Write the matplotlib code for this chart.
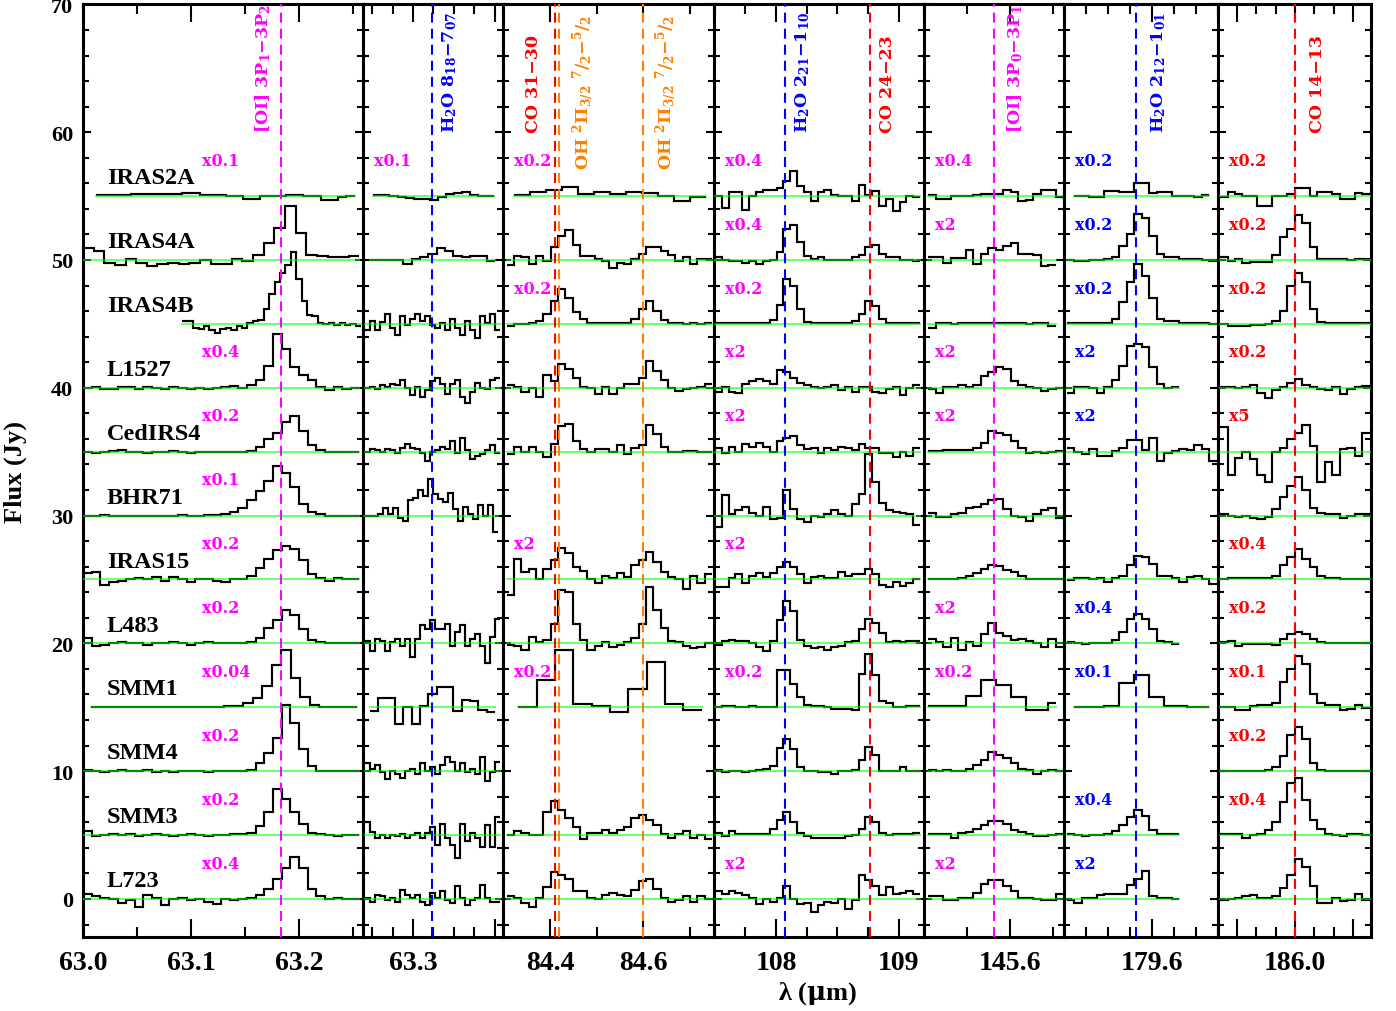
import numpy as np
import matplotlib
matplotlib.use("Agg")
import matplotlib.pyplot as plt
from matplotlib.ticker import FixedLocator, MultipleLocator

plt.rcParams["font.family"] = ["Liberation Serif", "DejaVu Serif"]
plt.rcParams["font.weight"] = "bold"
plt.rcParams["mathtext.fontset"] = "dejavuserif"
plt.rcParams["mathtext.default"] = "bf"

sources = ["IRAS2A", "IRAS4A", "IRAS4B", "L1527", "CedIRS4", "BHR71",
           "IRAS15", "L483", "SMM1", "SMM4", "SMM3", "L723"]
offsets = [55, 50, 45, 40, 35, 30, 25, 20, 15, 10, 5, 0]

# wavelength window of each panel (micron)
windows = [(63.0, 63.2593), (63.2390, 63.4098), (84.2994, 84.7512),
           (107.4959, 109.2033), (145.2, 145.8512), (179.2, 179.9),
           (185.601, 186.394)]

# spectra: source -> (lambda_lo, lambda_hi, flux above offset, already scaled)
G1 = (63.0, 63.256)
oi63 = {
    "IRAS2A": (63.012, 63.252, [0.1, 0.1, 0.1, 0.1, 0.15, 0.2, 0.2, 0.2, 0.2, 0.2, 0.25, 0.25, 0.1, 0.1, 0.1,
                                0.0, 0.0, -0.2, -0.2, 0.0, 0.0, 0.0, 0.1, 0.1, 0.0, 0.0, -0.3, -0.3, -0.1, 0.0]),
    "IRAS4A": (63.0, 63.256, [0.9, 0.7, -0.2, -0.4, 0.1, -0.2, -0.5, -0.3, -0.2, -0.3, -0.2, 0.0, -0.3,
                              -0.3, 0.1, -0.1, 0.4, 1.3, 2.5, 4.2, 2.1, 0.4, 0.3, 0.25, 0.2, 0.3]),
    "IRAS4B": (63.092, 63.2577, [0.2, 0.2, -0.3, -0.4, -0.2, -0.5, -0.7, -0.4, -0.3, -0.5, -0.2, -0.3, 0.1,
                                 0.2, 0.3, 1.2, 2.3, 3.3, 4.0, 4.6, 5.6, 3.5, 1.8, 0.7, 0.6, 0.1, 0.0, 0.1,
                                 -0.1, 0.1, -0.1, 0.0, -0.2]),
    "L1527": (*G1, [0.0, 0.1, -0.1, -0.1, 0.1, 0.1, -0.1, 0.1, 0.0, -0.1, 0.1, 0.0, -0.1, 0.0, -0.1, 0.0,
                    0.1, 0.15, 0.0, 0.2, 0.6, 1.7, 4.2, 3.0, 1.6, 1.0, 0.6, 0.1, -0.2, 0.1, -0.1, 0.0]),
    "CedIRS4": (*G1, [0.0, -0.1, 0.0, 0.05, 0.1, 0.0, 0.0, -0.1, 0.0, -0.05, 0.05, 0.0, -0.1, 0.0, -0.05, 0.0,
                      0.0, 0.0, 0.0, 0.05, 0.4, 1.0, 1.5, 2.3, 2.8, 1.6, 0.5, 0.1, 0.0, 0.0, 0.0, 0.0]),
    "BHR71": (*G1, [0.0, 0.0, 0.05, 0.0, 0.0, -0.05, 0.0, 0.0, 0.0, 0.0, 0.0, 0.05, 0.0, 0.0, 0.05, 0.05,
                    0.1, 0.3, 0.6, 1.2, 1.9, 2.7, 3.9, 3.3, 2.2, 0.9, 0.3, 0.1, 0.0, 0.0, 0.0, 0.0]),
    "IRAS15": (*G1, [0.5, 0.6, -0.4, -0.2, -0.1, 0.0, 0.1, 0.0, 0.2, -0.1, 0.2, 0.0, -0.2, 0.0, 0.0, -0.1,
                     -0.2, 0.0, 0.0, 0.3, 0.9, 1.6, 2.3, 2.6, 2.4, 1.5, 0.4, 0.1, -0.1, 0.1, 0.0, 0.0]),
    "L483": (*G1, [0.4, -0.2, -0.1, 0.0, 0.1, 0.0, 0.0, -0.1, 0.05, 0.0, 0.1, 0.0, -0.1, 0.0, 0.1, 0.0,
                   0.0, 0.0, 0.0, 0.1, 0.4, 1.2, 1.8, 2.6, 2.2, 1.1, 0.3, 0.1, 0.0, 0.0, 0.0, 0.0]),
    "SMM1": (63.0077, 63.254, [0.0, 0.0, 0.05, 0.0, 0.0, 0.0, 0.05, 0.0, 0.0, 0.0, 0.05, 0.05, 0.0, 0.05,
                               0.1, 0.1, 0.3, 0.7, 1.7, 3.3, 4.5, 2.3, 0.8, 0.2, 0.05, 0.0, 0.0, 0.05]),
    "SMM4": (*G1, [0.1, 0.0, -0.1, 0.0, 0.1, 0.0, 0.05, 0.1, -0.05, 0.0, -0.1, 0.0, 0.05, 0.0, -0.1, 0.0,
                   0.0, 0.0, 0.0, 0.1, 0.6, 1.4, 2.6, 5.2, 3.8, 1.7, 0.4, 0.05, 0.0, 0.0, 0.0, 0.0]),
    "SMM3": (*G1, [0.3, -0.1, 0.0, 0.05, 0.0, 0.05, -0.05, 0.0, 0.05, 0.0, -0.1, 0.0, 0.05, 0.0, -0.1, 0.0,
                   0.0, 0.05, 0.1, 0.2, 0.7, 1.8, 3.6, 2.8, 1.8, 0.9, 0.2, 0.05, 0.0, -0.05, 0.0, 0.0]),
    "L723": (*G1, [0.4, 0.2, 0.1, 0.0, -0.3, -0.1, -0.6, 0.3, 0.1, -0.5, 0.0, 0.1, -0.1, 0.0, -0.2, -0.4,
                   0.0, -0.1, 0.0, 0.1, 0.3, 0.8, 1.6, 2.4, 3.3, 2.4, 0.8, 0.2, 0.0, 0.1, 0.0, 0.0]),
}

G2 = (63.2415, 63.4061)
h2o63 = {
    "IRAS2A": (63.2516, 63.3992, [0.05, 0.05, 0.0, -0.1, -0.15, -0.2, -0.25, -0.3, -0.05, 0.2, 0.25, 0.35, 0.1, 0.0, 0.0]),
    "IRAS4A": (63.2476, 63.4, [0.0, 0.0, 0.0, 0.0, -0.3, 0.1, 0.2, 0.5, 0.9, 0.7, 0.3, 0.2, 0.3, 0.3, -0.1]),
    "IRAS4B": (*G2, [-0.45, 0.2, -0.45, 0.15, 0.75, -0.3, -0.85, 0.6, -0.05, 0.35, 0.75, 0.2, 0.6, -0.05,
                     -0.3, 0.1, -0.45, 0.35, -0.3, -0.85, 0.2, -0.45, -1.1, 0.6, 0.1, 0.75, -0.45]),
    "L1527": (*G2, [0.0, 0.1, -0.1, 0.2, 0.1, 0.3, 0.2, 0.6, 0.0, -0.6, 0.1, -0.7, -0.2, 0.5, 0.8, 0.3,
                    -0.5, 0.3, 0.6, -0.7, -1.2, -0.3, 0.4, 0.0, -0.1, 0.6, 0.8]),
    "CedIRS4": (*G2, [0.0, 0.2, 0.1, 0.0, 0.2, 0.1, -0.1, 0.3, 0.6, 0.3, 0.2, -0.1, -0.7, 0.0, 0.1, 0.4,
                      0.2, 0.85, -0.1, 1.1, 0.1, -0.6, -0.3, -0.2, 0.1, 0.5, -0.1]),
    "BHR71": (63.2394, 63.404, [0.0, -0.05, 0.0, 0.1, 0.6, 0.1, 0.6, -0.2, -0.4, 1.2, 1.4, 2.0, 1.5, 2.9,
                                1.7, 1.3, 1.05, 1.8, 0.5, -0.4, 0.65, 0.1, -0.25, 0.8, 0.0, 0.8, -1.3]),
    "L483": (*G2, [0.2, -0.6, 0.35, 0.2, -0.6, 0.1, 0.35, -0.2, 0.35, -1.1, 0.35, 1.4, 1.1, 1.8, 1.1, 1.1,
                   1.5, -0.2, 0.9, 1.45, -0.2, 0.35, 0.7, -0.2, -1.5, 0.5, 1.9]),
    "SMM1": (63.2476, 63.4, [-0.3, 0.7, 0.7, -1.3, 0.0, -1.3, 0.1, 1.0, 1.6, 1.6, -0.3, 0.6, 0.5, -0.2, -0.35]),
    "SMM4": (*G2, [0.6, 0.2, 0.45, -0.1, -0.6, 0.05, -0.2, -0.5, 0.05, 0.2, -0.2, 0.6, 0.05, 0.3, -0.2,
                   0.5, 1.1, 0.7, 0.05, 0.65, -0.1, 0.2, -0.2, 1.1, -0.75, -0.1, 0.7]),
    "SMM3": (*G2, [1.0, 0.25, -0.25, 0.0, -0.25, 0.0, -0.1, 0.05, -0.25, 0.0, 0.15, -0.25, 0.15, 0.65,
                   -0.8, 0.9, -0.25, -0.8, -1.8, 0.9, -0.5, 0.15, -0.25, -0.9, 0.8, -0.9, 1.45]),
    "L723": (*G2, [0.1, -0.2, 0.3, 0.2, -0.1, 0.05, -0.2, 0.7, 0.3, 0.05, 0.3, -0.2, -0.5, 0.45, 0.05,
                   0.6, -0.1, -0.35, 1.0, 0.05, -0.5, -0.1, 0.05, 1.1, 0.05, -0.2, -0.2]),
}

G3 = (84.3072, 84.7469)
co_oh84 = {
    "IRAS2A": (84.3235, 84.7347, [0.1, 0.35, 0.5, 0.7, 0.15, 0.35, 0.2, 0.35, 0.25, 0.0, -0.35, -0.1]),
    "IRAS4A": (*G3, [-0.4, 0.3, 0.2, -0.3, 0.3, -0.1, 1.0, 1.9, 2.35, 1.2, 0.3, 0.3, 0.1, -0.1, -0.6, -0.2,
                     -0.3, 0.1, 0.5, 1.0, 1.0, 0.7, 0.4, -0.1, 0.2, -0.3, 0.1, 0.1]),
    "IRAS4B": (*G3, [-0.2, 0.0, 0.0, 0.05, 0.2, 0.8, 1.8, 2.7, 2.0, 0.9, 0.35, 0.05, 0.05, 0.05, 0.05, 0.1,
                     0.1, 0.4, 1.2, 1.8, 1.0, 0.3, 0.05, 0.05, 0.0, 0.05, 0.0, 0.05]),
    "L1527": (*G3, [0.2, 0.1, -0.3, 0.0, -0.7, 1.0, 0.5, 1.9, 1.5, 0.8, 0.1, 0.0, -0.5, 0.1, -0.5, 0.0,
                    0.3, 0.3, 0.8, 2.1, 1.3, 0.6, 0.0, -0.25, -0.1, 0.0, 0.1, 0.3]),
    "CedIRS4": (*G3, [-0.2, 0.35, 0.0, 0.35, 0.0, -0.4, 0.6, 2.0, 2.2, 0.8, 0.2, 0.0, 0.2, 0.2, 0.0, 0.5,
                      -0.2, 0.3, 0.5, 2.05, 1.4, 0.4, 0.0, -0.05, 0.05, 0.05, 0.0, 0.0]),
    "IRAS15": (*G3, [-1.25, 1.6, 0.6, 0.85, 0.0, 0.8, 1.5, 2.5, 2.1, 1.0, 0.7, 0.0, -0.3, 0.3, 0.1, 0.5,
                     0.2, 1.1, 1.5, 2.15, 1.4, 0.6, 0.2, 0.0, -0.75, 0.3, -0.3, 0.4]),
    "L483": (*G3, [-0.1, -0.2, -0.5, 0.5, 0.1, 0.3, 1.5, 4.2, 4.0, 1.5, 0.3, -0.5, -0.2, 0.1, -0.3, -0.1,
                   0.1, 0.4, 1.5, 4.4, 2.6, 1.2, 0.2, 0.1, -0.2, -0.4, -0.3, 0.0]),
    "SMM1": (84.3322, 84.7248, [0.0, 2.15, 4.45, 0.25, 0.1, -0.4, 1.45, 3.55, 0.25, -0.25]),
    "SMM3": (*G3, [0.0, 0.3, 0.2, 0.0, 0.0, 1.8, 2.7, 2.0, 1.3, 0.6, -0.3, 0.2, 0.2, 0.4, 0.2, 0.4, 0.6,
                   1.3, 1.6, 1.2, 0.8, 0.1, -0.2, 0.1, 0.3, -0.2, 0.0, -0.3]),
    "L723": (*G3, [0.2, 0.1, -0.3, -0.6, 0.1, 0.9, 2.1, 1.9, 1.6, 0.6, 0.6, 0.1, 0.0, 0.3, 0.5, 0.3, 0.2,
                   0.7, 1.4, 1.6, 0.8, 0.1, -0.2, -0.1, 0.2, -0.2, 0.2, 0.0]),
}

G4 = (107.504, 109.171)
h2o_co108 = {
    "IRAS2A": (*G4, [0.0, -0.9, 0.3, 0.3, -1.1, 0.0, 0.35, 0.45, 0.45, 0.6, 1.2, 2.0, 0.8, 0.35, -0.4, 0.3,
                     0.5, 0.1, 0.0, 0.0, -0.4, 0.9, 0.1, 0.4, -0.8, -0.2, -1.2, -0.5, 0.0, -0.1]),
    "IRAS4A": (*G4, [0.2, 0.0, -0.1, -0.1, -0.2, -0.1, -0.3, -0.1, 0.0, 0.6, 2.4, 2.75, 1.4, 0.3, 0.1, 0.2,
                     0.0, 0.0, 0.0, 0.0, 0.2, 0.4, 1.0, 1.2, 0.5, 0.2, 0.2, 0.0, 0.0, -0.1]),
    "IRAS4B": (*G4, [0.05, 0.05, 0.05, 0.05, 0.05, 0.05, 0.05, 0.1, 0.3, 1.5, 3.5, 3.0, 1.2, 0.15, 0.05,
                     0.05, 0.05, 0.05, 0.05, 0.1, 0.2, 0.8, 1.8, 1.4, 0.4, 0.1, 0.05, 0.05, 0.05, 0.05]),
    "L1527": (*G4, [-0.3, 0.1, -0.3, -0.4, 0.3, 0.5, 0.7, 0.5, 0.3, 1.4, 1.2, 0.8, 0.4, 0.2, 0.1, 0.0, 0.1,
                    0.2, -0.2, 0.1, -0.3, 0.1, 0.1, -0.3, -0.4, -0.1, 0.1, -0.6, 0.0, 0.2]),
    "CedIRS4": (*G4, [0.3, -0.1, 0.4, 0.0, 0.6, 0.4, 0.7, 0.4, 0.0, 0.8, 1.1, 1.25, 0.5, 0.2, 0.3, -0.1,
                      0.3, 0.1, 0.4, 0.3, 0.1, 0.6, 0.3, 0.3, -0.1, -0.1, -0.4, 0.0, -0.3, 0.3]),
    "BHR71": (*G4, [-0.9, 1.6, 0.1, 0.4, 0.7, 0.2, 0.0, 0.7, -0.3, -0.2, 2.0, 0.5, -0.3, -0.5, 0.0, -0.1,
                    0.1, 0.4, 0.1, 0.0, 0.9, 1.7, 4.8, 2.6, 1.0, 0.4, 0.3, 0.2, 0.1, -0.7]),
    "IRAS15": (*G4, [-0.6, -0.6, 0.1, 0.4, -0.3, 0.3, 0.5, 0.2, 0.5, 1.0, 1.35, 1.0, 0.4, -0.3, 0.2, 0.3,
                     0.1, 0.1, 0.6, 0.3, 0.4, 0.4, 0.85, 0.4, -0.4, -0.6, -0.2, -0.5, -0.3, 0.0]),
    "L483": (*G4, [-0.1, 0.2, 0.3, 0.15, 0.2, 0.0, -0.3, -0.6, 0.2, 1.8, 3.35, 2.5, 0.3, -0.2, -0.4, -0.3,
                   -0.5, -0.3, -0.2, 0.1, 0.2, 1.1, 1.9, 1.6, 0.8, 0.1, 0.2, 0.1, 0.2, 0.2]),
    "SMM1": (*G4, [0.0, 0.1, 0.1, 0.0, 0.0, 0.1, 0.05, 0.05, 0.05, 2.95, 2.95, 1.85, 0.8, 0.2, 0.1, 0.1,
                   0.0, -0.15, -0.1, -0.1, -0.2, 2.6, 4.2, 2.5, 0.5, 0.3, 0.0, 0.0, 0.1, 0.1]),
    "SMM4": (*G4, [0.1, -0.05, 0.05, 0.0, -0.1, 0.05, 0.1, 0.2, 0.4, 1.8, 2.5, 1.7, 0.3, 0.05, 0.0, -0.05,
                   -0.1, -0.2, 0.0, 0.05, 0.1, 0.9, 1.9, 1.3, 0.05, 0.05, 0.05, 0.3, 0.0, 0.05]),
    "SMM3": (*G4, [0.2, -0.1, 0.3, 0.1, 0.1, 0.05, 0.1, 0.1, 0.5, 1.2, 1.8, 1.0, 0.2, -0.1, -0.2, -0.25,
                   -0.2, -0.25, -0.2, -0.1, 0.0, 0.5, 1.4, 1.0, 0.2, 0.0, 0.1, 0.05, 0.1, 0.2]),
    "L723": (*G4, [0.6, 0.4, 0.6, 0.5, 0.3, 0.1, -0.4, 0.0, -0.2, 0.1, 1.0, 0.0, -0.4, -0.3, -1.0, -0.5,
                   -0.2, -0.3, 0.0, -0.8, -0.1, 1.9, 1.5, 1.0, 0.3, 0.9, 0.4, 0.5, 0.6, 0.4]),
}

G5 = (145.2201, 145.848)
G5s = (145.2201, 145.813)
oi145 = {
    "IRAS2A": (*G5, [0.05, -0.25, -0.25, 0.0, 0.0, 0.0, 0.1, 0.15, 0.2, 0.2, 0.45, 0.3, -0.4, -0.3, 0.2, 0.5, 0.5, -0.1]),
    "IRAS4A": (*G5s, [0.2, 0.2, -0.2, 0.15, 0.15, 0.8, -0.35, 0.45, 0.9, 0.8, 1.1, 1.3, 0.45, 0.45, 0.4, -0.5, -0.4]),
    "IRAS4B": (*G5s, [-0.3, 0.05, 0.05, 0.0, 0.05, 0.05, 0.05, 0.05, 0.05, 0.1, 0.05, 0.05, 0.05, 0.0, 0.05, 0.05, -0.2]),
    "L1527": (*G5, [-0.1, -0.4, 0.05, 0.1, 0.2, 0.1, 0.2, 0.9, 1.2, 1.6, 1.5, 0.5, 0.2, 0.1, -0.05, -0.25, -0.1, 0.0]),
    "CedIRS4": (*G5, [0.05, 0.05, 0.1, 0.1, 0.1, 0.15, 0.3, 0.7, 1.65, 1.5, 1.3, 0.8, 0.3, -0.1, -0.05, -0.1, 0.0, 0.05]),
    "BHR71": (*G5, [0.2, -0.1, -0.1, 0.1, 0.2, 0.6, 0.65, 0.9, 1.2, 1.3, 0.5, 0.0, -0.1, -0.4, 0.1, 0.4, 0.6, -0.2]),
    "IRAS15": (*G5, [0.0, 0.0, 0.0, 0.05, 0.1, 0.3, 0.5, 0.8, 1.1, 1.05, 0.75, 0.6, 0.3, 0.05, 0.0, 0.0, 0.0, 0.05]),
    "L483": (*G5, [0.35, 0.1, -0.3, 0.45, -0.5, 0.1, -0.2, 0.7, 1.6, 0.8, 0.6, 0.3, 0.35, 0.2, 0.0, -0.3, 0.35, -0.3]),
    "SMM1": (*G5s, [0.1, 0.1, 0.1, 0.1, 0.1, 0.85, 0.85, 2.1, 2.1, 1.75, 1.75, 0.8, 0.8, -0.25, -0.25, -0.25, 0.3]),
    "SMM4": (*G5, [0.1, 0.05, 0.1, 0.0, 0.05, 0.2, 0.45, 0.85, 1.5, 1.3, 1.0, 0.6, 0.2, 0.1, -0.2, 0.0, 0.1, 0.0]),
    "SMM3": (*G5, [0.1, 0.1, 0.1, -0.25, 0.2, 0.25, 0.5, 0.8, 1.1, 1.1, 0.85, 0.4, 0.25, 0.05, -0.1, -0.1, 0.0, 0.1]),
    "L723": (*G5, [0.2, 0.2, -0.1, -0.05, 0.05, 0.1, 0.45, 1.2, 1.5, 1.45, 1.0, 0.6, 0.05, 0.05, 0.0, -0.05, -0.05, 0.4]),
}

G6 = (179.2121, 179.894)
G6a = (179.2462, 179.8599)
G6b = (179.2121, 179.7235)
h2o179 = {
    "IRAS2A": (*G6a, [0.0, 0.0, -0.1, -0.1, 0.4, 0.4, 0.35, 0.35, 1.0, 1.0, 0.25, 0.35, 0.35, 0.0, 0.0, 0.0, -0.1, 0.1]),
    "IRAS4A": (*G6, [0.0, -0.05, -0.05, 0.0, 0.0, 0.05, 0.2, 1.1, 2.0, 3.6, 3.3, 1.9, 0.45, 0.2, 0.2, 0.1, 0.05, 0.05, 0.0, -0.05]),
    "IRAS4B": (*G6, [0.05, 0.05, 0.05, 0.05, 0.1, 0.1, 0.35, 1.7, 3.25, 4.7, 3.75, 2.05, 0.35, 0.2, 0.2, 0.1, 0.05, 0.05, 0.05, 0.0]),
    "L1527": (*G6b, [-0.4, 0.1, 0.1, 0.0, -0.4, 0.1, 0.6, 1.7, 3.3, 3.4, 3.2, 1.6, 0.3, 0.0, 0.05]),
    "CedIRS4": (*G6, [0.3, 0.0, -0.15, 0.2, -0.3, -0.3, 0.05, 0.3, 0.95, 0.9, 0.1, 1.1, -0.7, -0.1, 0.05, 0.2, 0.15, 0.5, 0.2, -0.7]),
    "IRAS15": (*G6, [-0.05, 0.1, 0.15, 0.0, 0.15, -0.2, 0.1, 0.3, 1.1, 1.8, 1.75, 1.2, 0.3, 0.3, 0.1, -0.2, 0.2, 0.3, 0.0, -0.35]),
    "L483": (*G6b, [0.1, 0.0, -0.05, 0.0, 0.05, 0.05, 0.3, 0.9, 1.9, 2.3, 1.9, 1.1, 0.2, 0.1, -0.05]),
    "SMM1": (*G6a, [0.0, 0.0, 0.0, 0.0, 0.1, 0.1, 1.9, 1.9, 2.5, 2.5, 0.8, 0.8, 0.1, 0.1, 0.1, 0.0, 0.0, 0.0]),
    "SMM3": (*G6b, [0.1, 0.0, -0.05, 0.0, 0.0, 0.1, 0.3, 0.8, 1.45, 2.0, 1.5, 0.4, 0.1, 0.05, 0.05]),
    "L723": (*G6b, [-0.1, -0.3, 0.1, 0.1, 0.3, 0.4, 0.35, 0.35, 1.1, 1.6, 2.15, 0.2, 0.05, 0.05, 0.0]),
}

G7 = (185.6114, 186.3886)
co186 = {
    "IRAS2A": (*G7, [-0.1, 0.3, 0.2, 0.0, 0.0, -0.75, -0.75, 0.0, 0.0, 0.2, 0.6, 0.6, 0.0, 0.35, 0.35, 0.2, -0.25, -0.25, 0.25, 0.2]),
    "IRAS4A": (*G7, [0.2, -0.05, 0.05, -0.2, -0.15, -0.15, -0.15, 0.4, 1.8, 2.4, 3.5, 2.9, 1.0, 0.1, 0.1, 0.1, 0.1, 0.0, 0.1, 0.05]),
    "IRAS4B": (*G7, [0.0, -0.2, -0.2, -0.15, -0.1, -0.05, 0.0, 0.2, 1.0, 3.0, 4.0, 3.3, 1.2, 0.15, 0.05, 0.05, 0.05, 0.05, 0.05, 0.05]),
    "L1527": (*G7, [0.1, 0.05, 0.0, 0.05, 0.25, -0.4, -0.8, -0.2, 0.1, 0.4, 0.65, 0.25, 0.1, -0.1, -0.2, 0.1, -0.5, -0.1, 0.1, 0.15]),
    "CedIRS4": (*G7, [1.9, -1.8, -0.5, 0.0, -0.6, -1.8, -2.4, 0.0, 0.3, 1.0, 1.5, 2.1, 0.45, -2.4, -0.8, -1.8, 0.2, 0.25, -0.3, 1.5]),
    "BHR71": (*G7, [0.1, 0.0, -0.1, 0.0, -0.2, -0.25, -0.1, 0.5, 1.45, 2.35, 3.0, 2.0, 0.6, 0.2, 0.1, 0.1, -0.2, 0.0, 0.1, 0.15]),
    "IRAS15": (*G7, [0.0, 0.1, 0.15, 0.15, 0.1, 0.1, 0.1, 0.3, 1.1, 1.75, 2.4, 1.6, 1.0, 0.3, 0.1, 0.1, 0.05, 0.0, 0.0, 0.0]),
    "L483": (*G7, [0.1, 0.15, -0.2, -0.05, -0.05, -0.05, -0.05, -0.1, 0.35, 0.75, 0.9, 0.75, 0.35, 0.1, 0.05, 0.0, 0.05, 0.0, 0.0, 0.0]),
    "SMM1": (*G7, [0.0, 0.0, -0.2, -0.2, 0.1, 0.15, 0.2, 0.3, 2.0, 3.0, 4.05, 3.4, 1.05, 0.3, 0.15, 0.15, -0.2, -0.1, 0.15, -0.05]),
    "SMM4": (*G7, [0.05, 0.0, 0.05, 0.05, 0.0, 0.0, 0.1, 0.3, 1.2, 2.8, 3.45, 2.55, 0.6, 0.1, 0.05, 0.05, 0.05, 0.05, 0.0, 0.05]),
    "SMM3": (*G7, [0.05, 0.05, 0.05, -0.2, 0.0, 0.05, 0.4, 1.05, 2.6, 4.1, 4.45, 2.75, 1.2, 0.5, 0.1, 0.0, -0.1, 0.05, 0.05, 0.0]),
    "L723": (*G7, [-0.1, 0.0, 0.1, 0.2, 0.3, 0.1, 0.05, 0.2, 0.85, 1.9, 3.1, 2.5, 1.0, -0.35, -0.35, 0.05, -0.15, -0.1, 0.4, -0.1]),
}
panel_spectra = [oi63, h2o63, co_oh84, h2o_co108, oi145, h2o179, co186]

# multiplicative factors written next to each spectrum
scale_oi63 = ["x0.1", "", "", "x0.4", "x0.2", "x0.1", "x0.2", "x0.2", "x0.04", "x0.2", "x0.2", "x0.4"]
scale_h2o63 = ["x0.1", "", "", "", "", "", "", "", "", "", "", ""]
scale_co_oh84 = ["x0.2", "", "x0.2", "", "", "", "x2", "", "x0.2", "", "", ""]
scale_h2o_co108 = ["x0.4", "x0.4", "x0.2", "x2", "x2", "", "x2", "", "x0.2", "", "", "x2"]
scale_oi145 = ["x0.4", "x2", "", "x2", "x2", "", "", "x2", "x0.2", "", "", "x2"]
scale_h2o179 = ["x0.2", "x0.2", "x0.2", "x2", "x2", "", "", "x0.4", "x0.1", "", "x0.4", "x2"]
scale_co186 = ["x0.2", "x0.2", "x0.2", "x0.2", "x5", "", "x0.4", "x0.2", "x0.1", "x0.2", "x0.4", ""]
panel_scales = [scale_oi63, scale_h2o63, scale_co_oh84, scale_h2o_co108, scale_oi145, scale_h2o179, scale_co186]
scale_colors = ["magenta"] * 5 + ["blue", "red"]

# line identifications: (wavelength, colour, label)
MAG, BLU, RED, ORA = "#ff00ff", "#0000ff", "#ff0000", "#ff8000"
lines_oi63 = [(63.1837, MAG, r"[OI] 3P$_1$−3P$_2$")]
lines_h2o63 = [(63.3236, BLU, r"H$_2$O 8$_{18}$−7$_{07}$")]
lines_co_oh84 = [(84.411, RED, "CO 31−30"),
                 (84.420, ORA, r"OH $^2$Π$_{3/2}$ $^7$/$_2$−$^5$/$_2$"),
                 (84.600, ORA, r"OH $^2$Π$_{3/2}$ $^7$/$_2$−$^5$/$_2$")]
lines_h2o_co108 = [(108.073, BLU, r"H$_2$O 2$_{21}$−1$_{10}$"), (108.763, RED, "CO 24−23")]
lines_oi145 = [(145.525, MAG, r"[OI] 3P$_0$−3P$_1$")]
lines_h2o179 = [(179.527, BLU, r"H$_2$O 2$_{12}$−1$_{01}$")]
lines_co186 = [(185.999, RED, "CO 14−13")]
panel_lines = [lines_oi63, lines_h2o63, lines_co_oh84, lines_h2o_co108, lines_oi145, lines_h2o179, lines_co186]
# label placement: (pixel shift from line, alignment, bottom y)
label_place = [[(-8, "right", 60.0)], [(8, "left", 60.0)],
               [(-13, "right", 60.0), (11, "left", 57.1), (10, "left", 57.1)],
               [(8, "left", 60.0), (9, "left", 60.0)], [(11, "left", 60.0)],
               [(13, "left", 60.0)], [(14, "left", 60.0)]]

major_ticks = [([63.0, 63.1, 63.2], ["63.0", "63.1", "63.2"], 0.05),
               ([63.3, 63.4], ["63.3", ""], 0.025),
               ([84.4, 84.6], ["84.4", "84.6"], 0.1),
               ([108, 109], ["108", "109"], 0.25),
               ([145.6], ["145.6"], 0.2),
               ([179.6], ["179.6"], 0.1),
               ([185.7, 186.0, 186.3], ["", "186.0", ""], 0.1)]

W, H = 1396, 1012
edges_px = [83, 363, 503, 714, 924, 1064, 1218, 1371]
top_px, bot_px = 5.4, 938.3
PT = 0.72  # points per pixel at 100 dpi

fig = plt.figure(figsize=(W / 100, H / 100), dpi=100)
axes = []
for i in range(7):
    l = edges_px[i] / W
    w = (edges_px[i + 1] - edges_px[i]) / W
    ax = fig.add_axes([l, 1 - bot_px / H, w, (bot_px - top_px) / H])
    axes.append(ax)
    ax.set_xlim(*windows[i])
    ax.set_ylim(-3, 70)

    for j, src in enumerate(sources):
        if src not in panel_spectra[i]:
            continue
        lo, hi, vals = panel_spectra[i][src]
        edges = np.linspace(lo, hi, len(vals) + 1)
        ax.stairs(np.array(vals) + offsets[j], edges, baseline=None, color="black", lw=1.55, zorder=2)
        ax.plot([lo, hi], [offsets[j], offsets[j]], color=(0, 1, 0), alpha=0.55, lw=1.5, zorder=3)
        lab = panel_scales[i][j]
        if lab:
            x_fr = 0.425 if i == 0 else 0.0
            dx = 0 if i == 0 else 11 * PT
            ax.annotate(lab, xy=(x_fr, offsets[j] + 2.45), xycoords=("axes fraction", "data"),
                        xytext=(dx, 0), textcoords="offset points", ha="left", va="baseline",
                        color=scale_colors[i], fontsize=11.5, family="DejaVu Serif", weight="bold")

    for (wl, col, txt), (shift, ha, yb) in zip(panel_lines[i], label_place[i]):
        ax.axvline(wl, color=col, lw=1.5, ls=(0, (4.8, 2.9)), zorder=4)
        ax.annotate(txt, xy=(wl, yb), xytext=(shift * PT, 0), textcoords="offset points",
                    rotation=90, ha=ha, va="bottom", color=col, fontsize=12.5,
                    family="DejaVu Serif", weight="bold")

    pos, labs, minor = major_ticks[i]
    ax.xaxis.set_major_locator(FixedLocator(pos))
    ax.set_xticklabels(labs)
    ax.xaxis.set_minor_locator(MultipleLocator(minor))
    ax.yaxis.set_major_locator(MultipleLocator(10))
    ax.yaxis.set_minor_locator(MultipleLocator(2))
    ax.tick_params(which="both", direction="in", top=True, right=True, width=1.5)
    ax.tick_params(axis="x", which="major", length=13, labelsize=20, pad=9)
    ax.tick_params(axis="x", which="minor", length=7)
    ax.tick_params(axis="y", which="major", length=6, labelsize=16, pad=7)
    ax.tick_params(axis="y", which="minor", length=4)
    if i > 0:
        ax.tick_params(axis="y", labelleft=False)
    for sp in ax.spines.values():
        sp.set_linewidth(2.2)

for j, src in enumerate(sources):
    axes[0].annotate(src, xy=((107 - 83) / 280, offsets[j] + 1.0), xycoords=("axes fraction", "data"),
                     ha="left", va="baseline", fontsize=17.5, weight="bold")

fig.text(15 / W, 1 - 472 / H, "Flux (Jy)", rotation=90, ha="center", va="center", fontsize=19, weight="bold")
fig.text(818 / W, 1 - 994 / H, r"λ ($\mu$m)", ha="center", va="center", fontsize=19, weight="bold")

fig.savefig("out.png", dpi=100)
